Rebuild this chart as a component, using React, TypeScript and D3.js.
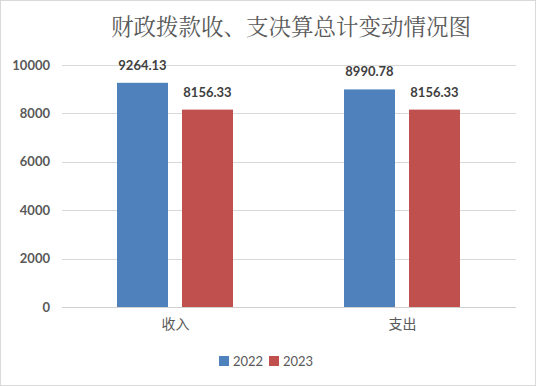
import React from "react";
import * as d3 from "d3";

const categories = ["收入", "支出"];
const seriesNames = ["2022", "2023"];
const values2022 = [9264.13, 8990.78];
const values2023 = [8156.33, 8156.33];
const yTicks = [0, 2000, 4000, 6000, 8000, 10000];
const colors = ["#4f81bd", "#c0504d"];

const W = 536;
const H = 386;
const numFont = "Lato, 'Open Sans', sans-serif";

export default function App() {
  const x = d3.scaleBand<string>().domain(categories).range([62, 516]);
  const y = d3.scaleLinear().domain([0, 10000]).range([307, 65]);
  const series = [values2022, values2023];
  // two bars of 51px with a 14px gap, starting 55px into each band
  const inner = d3.scaleBand<string>().domain(seriesNames).range([55, 171]).paddingInner(14 / 65);

  return (
    <svg width={W} height={H} style={{ position: "absolute", left: 0, top: 0, background: "#fff" }}>
      <rect x={0.5} y={0.5} width={W - 1} height={H - 1} fill="#fff" stroke="#d9d9d9" />
      <text
        x={291}
        y={35}
        textAnchor="middle"
        fontSize={22.5}
        fontFamily="'Noto Serif CJK SC', 'Noto Sans CJK SC', serif"
        fill="#595959"
      >
        财政拨款收、支决算总计变动情况图
      </text>
      {yTicks.map((t) => (
        <g key={t}>
          <line x1={62} x2={516} y1={Math.round(y(t)) + 0.5} y2={Math.round(y(t)) + 0.5} stroke={t === 0 ? "#d0d0d0" : "#d9d9d9"} />
          <text
            x={50}
            y={y(t) + 4.5}
            textAnchor="end"
            fontSize={13}
            fontWeight="bold"
            fontFamily={numFont}
            fill="#595959"
          >
            {t}
          </text>
        </g>
      ))}
      {categories.map((c, ci) => (
        <g key={c}>
          {series.map((vals, si) => {
            const bx = (x(c) as number) + (inner(seriesNames[si]) as number);
            return (
              <g key={si}>
                <rect x={bx} y={y(vals[ci])} width={inner.bandwidth()} height={y(0) - y(vals[ci])} fill={colors[si]} />
                <text
                  x={bx + inner.bandwidth() / 2}
                  y={y(vals[ci]) - 13}
                  textAnchor="middle"
                  fontSize={13}
                  fontWeight="bold"
                  fontFamily={numFont}
                  fill="#404040"
                >
                  {vals[ci].toFixed(2)}
                </text>
              </g>
            );
          })}
          <text
            x={(x(c) as number) + x.bandwidth() / 2}
            y={329}
            textAnchor="middle"
            fontSize={14}
            fontFamily="'Noto Sans CJK SC', sans-serif"
            fill="#595959"
          >
            {c}
          </text>
        </g>
      ))}
      {seriesNames.map((s, i) => (
        <g key={s} transform={`translate(${219 + i * 50},356)`}>
          <rect x={0} y={0} width={10} height={10} fill={colors[i]} />
          <text x={14} y={10} fontSize={13} fontFamily={numFont} fill="#595959">
            {s}
          </text>
        </g>
      ))}
    </svg>
  );
}
